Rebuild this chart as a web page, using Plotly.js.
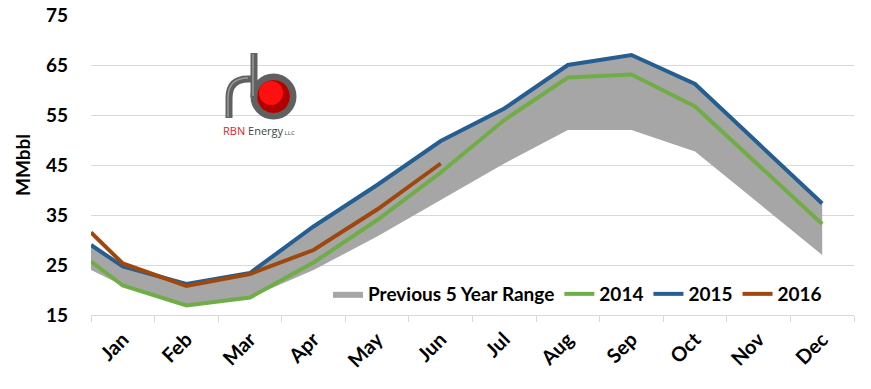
<!DOCTYPE html>
<html>
<head>
<meta charset="utf-8">
<script src="https://cdn.plot.ly/plotly-3.0.1.min.js"></script>
<style>html,body{margin:0;padding:0;background:#fff;}#chart{width:871px;height:389px;}</style>
</head>
<body>
<div id="chart"></div>
<script>
// Months (category labels); first value in each series is the level at the left edge of the plot
var months = ['Jan','Feb','Mar','Apr','May','Jun','Jul','Aug','Sep','Oct','Nov','Dec'];
var rangeLow  = [24.0, 20.9, 16.9, 18.5, 24.0, 30.7, 38.0, 45.3, 52.0, 52.0, 47.7, 37.3, 27.0];
var rangeHigh = [29.0, 24.7, 21.2, 23.4, 32.7, 41.0, 49.8, 56.3, 65.0, 67.0, 61.2, 49.2, 37.3];
var s2014 = [25.7, 20.9, 16.9, 18.5, 25.5, 34.0, 43.5, 54.0, 62.5, 63.1, 56.7, 44.9, 33.2];
var s2015 = [29.0, 24.7, 21.2, 23.4, 32.7, 41.0, 49.8, 56.3, 65.0, 67.0, 61.2, 49.2, 37.3];
var s2016 = [31.5, 25.3, 20.8, 23.2, 28.0, 36.1, 45.3];
var yTicks = [15, 25, 35, 45, 55, 65, 75];

// x positions: left edge (0.5) then category centres 1..12
var xs = [0.5].concat(months.map(function(m, i){ return i + 1; }));

var font = "Lato, 'Liberation Sans', Arial, sans-serif";
var traces = [
  {x: xs, y: rangeLow, mode: 'lines', line: {width: 0, color: '#A6A6A6'}, showlegend: false, hoverinfo: 'skip'},
  {x: xs, y: rangeHigh, mode: 'lines', fill: 'tonexty', fillcolor: '#A6A6A6', line: {width: 0, color: '#A6A6A6'}, name: 'Previous 5 Year Range'},
  {x: xs, y: s2014, mode: 'lines', line: {width: 4, color: '#70AD47'}, name: '2014'},
  {x: xs, y: s2015, mode: 'lines', line: {width: 4, color: '#255E91'}, name: '2015'},
  {x: xs.slice(0, s2016.length), y: s2016, mode: 'lines', line: {width: 4, color: '#9E480E'}, name: '2016'}
];

// plot area in pixels
var L = 91, R = 854, T = 15, B = 315;
function px(x){ return (x - L) / (R - L); }
function py(y){ return (B - y) / (B - T); }
function P(x, y){ return px(x).toFixed(5) + ',' + py(y).toFixed(5); }

var pipe = '#606060';
var shapes = [
  // ring of the "b"
  {type: 'circle', xref: 'paper', yref: 'paper', x0: px(254), x1: px(293), y0: py(116), y1: py(77), line: {color: pipe, width: 7}, fillcolor: 'rgba(0,0,0,0)'},
  // red ball
  {type: 'circle', xref: 'paper', yref: 'paper', x0: px(257), x1: px(290), y0: py(113), y1: py(80), line: {width: 0}, fillcolor: '#B00000'},
  {type: 'circle', xref: 'paper', yref: 'paper', x0: px(259), x1: px(283), y0: py(105), y1: py(81), line: {width: 0}, fillcolor: '#FF1010'},
  // stem of the "b"
  {type: 'path', xref: 'paper', yref: 'paper', path: 'M' + P(254, 53) + ' L' + P(254, 97), line: {color: pipe, width: 7}},
  // "r" arch
  {type: 'path', xref: 'paper', yref: 'paper', path: 'M' + P(229, 118) + ' L' + P(229, 98) + ' Q' + P(229, 79) + ' ' + P(248, 79) + ' L' + P(254, 79), line: {color: pipe, width: 7}},
  // highlights
  {type: 'path', xref: 'paper', yref: 'paper', path: 'M' + P(253, 54) + ' L' + P(253, 96), line: {color: '#9a9a9a', width: 1.5}},
  {type: 'path', xref: 'paper', yref: 'paper', path: 'M' + P(228, 117) + ' L' + P(228, 98) + ' Q' + P(228, 78) + ' ' + P(248, 78), line: {color: '#9a9a9a', width: 1.5}}
];

var layout = {
  width: 871, height: 389,
  margin: {l: L, r: 871 - R, t: T, b: 389 - B},
  paper_bgcolor: '#fff', plot_bgcolor: '#fff',
  font: {family: font, color: '#000'},
  showlegend: true,
  legend: {orientation: 'h', x: px(328), xanchor: 'left', y: py(294), yanchor: 'middle',
           bgcolor: 'rgba(0,0,0,0)', font: {size: 19, family: font, weight: 700}, traceorder: 'normal', itemwidth: 30, tracegroupgap: 0},
  xaxis: {
    range: [0.5, 12.5], tickmode: 'array', tickvals: months.map(function(m, i){ return i + 1; }), ticktext: months,
    tickangle: -45, ticks: '', showgrid: false, zeroline: false,
    showline: true, linecolor: '#D9D9D9', linewidth: 1,
    tickfont: {size: 20, family: font, weight: 700}, ticklabelstandoff: 4,
    minor: {tickmode: 'linear', tick0: 0.5, dtick: 1, ticks: 'outside', ticklen: 6, tickcolor: '#D9D9D9', tickwidth: 1, showgrid: false}
  },
  yaxis: {
    range: [15, 75], tickmode: 'array', tickvals: yTicks, ticks: '', showline: false, zeroline: false,
    showgrid: true, gridcolor: '#D9D9D9', gridwidth: 1,
    tickfont: {size: 19, family: font, weight: 700}, ticklabelstandoff: 22,
    title: {text: '<b>MMbbl</b>', font: {size: 19, family: font, weight: 700}, standoff: 10}
  },
  shapes: shapes,
  annotations: [
    {xref: 'paper', yref: 'paper', x: px(259), y: py(130), xanchor: 'center', yanchor: 'middle', showarrow: false,
     text: "<span style='color:#E31E24'>RBN</span> Energy<span style='font-size:6px'> LLC</span>",
     font: {size: 11, family: "'Open Sans', sans-serif", color: '#444'}}
  ]
};

Plotly.newPlot('chart', traces, layout, {staticPlot: true, displayModeBar: false});
</script>
</body>
</html>
